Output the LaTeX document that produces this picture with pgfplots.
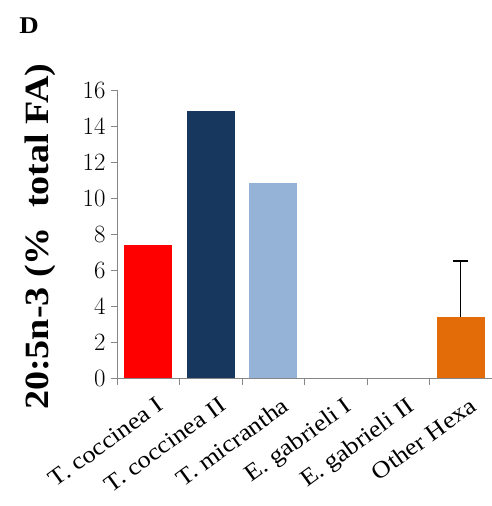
\documentclass[border=0pt]{standalone}
\usepackage{fontspec}
\setmainfont{Liberation Serif}[FakeStretch=1.12]
\usepackage{pgfplots}
\pgfplotsset{compat=1.18}
\definecolor{cred}{HTML}{FF0000}
\definecolor{cnavy}{HTML}{17375E}
\definecolor{clblue}{HTML}{95B3D7}
\definecolor{corange}{HTML}{E36C09}
\definecolor{caxis}{HTML}{868686}
\begin{document}
\begin{tikzpicture}[x=1pt,y=1pt]
\useasboundingbox (0,0) rectangle (492,506);
\node[font=\bfseries\fontsize{24}{26}\selectfont] at (29,480) {D};
\begin{axis}[
  at={(117pt,128pt)}, anchor=south west,
  scale only axis, width=375pt, height=288pt,
  xmin=-0.5, xmax=5.5, ymin=0, ymax=16,
  ytick={0,2,...,16},
  xtick={0,1,2,3,4,5},
  xticklabels={T. coccinea I, T. coccinea II, T. micrantha, E. gabrieli I, E. gabrieli II, Other Hexa},
  minor xtick={-0.5,0.5,1.5,2.5,3.5,4.5,5.5},
  xtick style={draw=none},
  minor x tick style={draw=caxis, line width=0.8pt},
  ytick style={draw=caxis, line width=0.8pt},
  tick align=outside,
  major tick length=6pt, minor tick length=7pt,
  axis lines*=left,
  axis line style={draw=caxis, line width=0.8pt},
  yticklabel style={font=\fontsize{23}{25}\selectfont, xshift=-2pt},
  xticklabel style={font=\fontsize{23.5}{25}\selectfont, rotate=36, anchor=north east, inner sep=1pt, yshift=-13pt, xshift=0pt},
  ylabel={20:5n-3 (\%\ \ total FA)},
  ylabel style={font=\bfseries\fontsize{34}{36}\selectfont, at={(axis description cs:-0.205,0.49)}, anchor=center},
  ybar, bar width=0.77,
  clip=false,
]
\addplot[fill=cred, draw=none, bar shift=0pt] coordinates {(0,7.4)};
\addplot[fill=cnavy, draw=none, bar shift=0pt] coordinates {(1,14.85)};
\addplot[fill=clblue, draw=none, bar shift=0pt] coordinates {(2,10.85)};
\addplot[fill=corange, draw=none, bar shift=0pt,
  error bars/.cd, y dir=plus, y explicit,
  error bar style={black, line width=1.2pt},
  error mark options={black, mark size=7.5pt, line width=1.2pt, rotate=90}]
  coordinates {(5,3.4) +- (0,3.1)};
\end{axis}
\end{tikzpicture}
\end{document}
